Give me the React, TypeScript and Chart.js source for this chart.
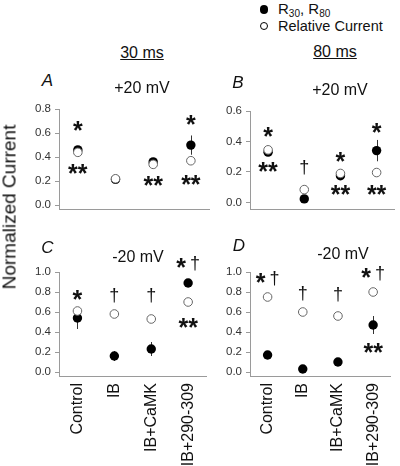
import React, { useEffect, useRef } from "react";
import { Chart, registerables } from "chart.js";
Chart.register(...registerables);

const categories = ["Control", "IB", "IB+CaMK", "IB+290-309"];

// Panel A: 30 ms, +20 mV
const aFilled = [0.46, 0.215, 0.36, 0.5];
const aFilledErr = [0.02, 0.02, 0.02, 0.08];
const aOpen = [0.44, 0.22, 0.34, 0.37];
const aTicks = [0, 0.2, 0.4, 0.6, 0.8];
const aMarks = [
  { cat: 0, y: 0.66, text: "*" },
  { cat: 0, y: 0.3, text: "**" },
  { cat: 2, y: 0.2, text: "**" },
  { cat: 3, y: 0.71, text: "*" },
  { cat: 3, y: 0.21, text: "**" },
];

// Panel B: 80 ms, +20 mV
const bFilled = [0.33, 0.023, 0.175, 0.34];
const bFilledErr = [0.02, 0.01, 0.02, 0.07];
const bOpen = [0.345, 0.084, 0.19, 0.196];
const bTicks = [0, 0.2, 0.4, 0.6];
const bMarks = [
  { cat: 0, y: 0.46, text: "*" },
  { cat: 0, y: 0.23, text: "**" },
  { cat: 1, y: 0.23, text: "†" },
  { cat: 2, y: 0.3, text: "*" },
  { cat: 2, y: 0.08, text: "**" },
  { cat: 3, y: 0.49, text: "*" },
  { cat: 3, y: 0.084, text: "**" },
];

// Panel C: 30 ms, -20 mV
const cFilled = [0.54, 0.16, 0.23, 0.89];
const cFilledErr = [0.11, 0.05, 0.07, 0.03];
const cOpen = [0.61, 0.58, 0.53, 0.7];
const cTicks = [0, 0.2, 0.4, 0.6, 0.8, 1.0];
const cMarks = [
  { cat: 0, y: 0.77, text: "*" },
  { cat: 1, y: 0.77, text: "†" },
  { cat: 2, y: 0.77, text: "†" },
  { cat: 3, y: 1.09, text: "* †" },
  { cat: 3, y: 0.49, text: "**" },
];

// Panel D: 80 ms, -20 mV
const dFilled = [0.17, 0.03, 0.1, 0.47];
const dFilledErr = [0.02, 0.01, 0.02, 0.09];
const dOpen = [0.75, 0.6, 0.56, 0.8];
const dTicks = [0, 0.2, 0.4, 0.6, 0.8, 1.0];
const dMarks = [
  { cat: 0, y: 0.94, text: "* †" },
  { cat: 1, y: 0.79, text: "†" },
  { cat: 2, y: 0.78, text: "†" },
  { cat: 3, y: 0.99, text: "* †" },
  { cat: 3, y: 0.24, text: "**" },
];

const FONT = "'Liberation Sans', Arial, sans-serif";

type Mark = { cat: number; y: number; text: string };

interface PanelCfg {
  filled: number[];
  err: number[];
  open: number[];
  ticks: number[];
  marks: Mark[];
  min: number;
  max: number;
  showLabels: boolean;
  box: { left: number; top: number; width: number; height: number };
  pad: { left: number; top: number; right: number; bottom: number };
  xHeight: number;
}

function drawMark(ctx: CanvasRenderingContext2D, cx: number, cy: number, text: string) {
  const parts = text.split("");
  const fontFor = (ch: string) => (ch === "*" ? `bold 25px ${FONT}` : `18px ${FONT}`);
  const widths = parts.map((ch) => {
    if (ch === " ") return 4;
    ctx.font = fontFor(ch);
    return ctx.measureText(ch).width;
  });
  const total = widths.reduce((a, b) => a + b, 0);
  let x = cx - total / 2;
  ctx.fillStyle = "#111";
  ctx.textAlign = "left";
  ctx.textBaseline = "alphabetic";
  parts.forEach((ch, i) => {
    if (ch !== " ") {
      ctx.font = fontFor(ch);
      const m = ctx.measureText(ch);
      const asc = m.actualBoundingBoxAscent;
      const desc = m.actualBoundingBoxDescent;
      const base = cy + (asc - desc) / 2;
      ctx.fillText(ch, x, base);
    }
    x += widths[i];
  });
}

function Panel({ cfg }: { cfg: PanelCfg }) {
  const ref = useRef<HTMLCanvasElement | null>(null);
  useEffect(() => {
    if (!ref.current) return;
    const errorBars = {
      id: "errorBars",
      beforeDatasetsDraw(chart: any) {
        const { ctx, scales } = chart;
        const xs = scales.x;
        const ys = scales.y;
        ctx.save();
        ctx.strokeStyle = "#333";
        ctx.lineWidth = 1;
        cfg.filled.forEach((v, i) => {
          const x = Math.round(xs.getPixelForValue(i)) + 0.5;
          ctx.beginPath();
          ctx.moveTo(x, ys.getPixelForValue(v + cfg.err[i]));
          ctx.lineTo(x, ys.getPixelForValue(v - cfg.err[i]));
          ctx.stroke();
        });
        ctx.restore();
      },
    };
    const marks = {
      id: "marks",
      afterDatasetsDraw(chart: any) {
        const { ctx, scales } = chart;
        ctx.save();
        cfg.marks.forEach((m) => {
          drawMark(ctx, scales.x.getPixelForValue(m.cat), scales.y.getPixelForValue(m.y), m.text);
        });
        ctx.restore();
      },
    };
    const chart = new Chart(ref.current, {
      type: "line",
      data: {
        labels: categories,
        datasets: [
          {
            label: "Relative Current",
            data: cfg.open,
            showLine: false,
            pointRadius: 4.3,
            pointBackgroundColor: "#fff",
            pointBorderColor: "#666",
            pointBorderWidth: 1,
            order: 0,
          },
          {
            label: "R30, R80",
            data: cfg.filled,
            showLine: false,
            pointRadius: 4.7,
            pointBackgroundColor: "#000",
            pointBorderColor: "#000",
            pointBorderWidth: 0,
            order: 1,
          },
        ],
      },
      options: {
        animation: false,
        responsive: false,
        maintainAspectRatio: false,
        layout: { padding: cfg.pad },
        plugins: { legend: { display: false }, tooltip: { enabled: false } },
        scales: {
          x: {
            type: "category",
            offset: true,
            grid: { display: false, drawTicks: false },
            border: { display: true, color: "#9a9a9a", width: 1 },
            ticks: {
              display: cfg.showLabels,
              maxRotation: 90,
              minRotation: 90,
              autoSkip: false,
              padding: 7,
              color: "#111",
              font: { family: FONT, size: 16 },
            },
            afterFit: (s: any) => {
              s.height = cfg.xHeight;
            },
          },
          y: {
            min: cfg.min,
            max: cfg.max,
            grid: { display: true, drawOnChartArea: false, drawTicks: true, tickLength: 4, color: "#9a9a9a" },
            border: { display: true, color: "#9a9a9a", width: 1 },
            ticks: {
              padding: 4,
              color: "#333",
              font: { family: FONT, size: 11.5 },
              callback: (v: any) => Number(v).toFixed(1),
            },
            afterBuildTicks: (s: any) => {
              s.ticks = cfg.ticks.map((v) => ({ value: v }));
            },
            afterFit: (s: any) => {
              s.width = 59;
            },
          },
        },
      } as any,
      plugins: [errorBars, marks],
    });
    return () => chart.destroy();
  }, [cfg]);
  const { left, top, width, height } = cfg.box;
  return (
    <canvas
      ref={ref}
      width={width}
      height={height}
      style={{ position: "absolute", left, top, width, height }}
    />
  );
}

const panels: PanelCfg[] = [
  {
    filled: aFilled, err: aFilledErr, open: aOpen, ticks: aTicks, marks: aMarks,
    min: -0.032, max: 0.8, showLabels: false,
    box: { left: 0, top: 95, width: 215, height: 125 },
    pad: { left: 0, top: 14, right: 5, bottom: 7 },
    xHeight: 0,
  },
  {
    filled: bFilled, err: bFilledErr, open: bOpen, ticks: bTicks, marks: bMarks,
    min: -0.044, max: 0.6, showLabels: false,
    box: { left: 191, top: 95, width: 209, height: 125 },
    pad: { left: 0, top: 16, right: 1, bottom: 7 },
    xHeight: 0,
  },
  {
    filled: cFilled, err: cFilledErr, open: cOpen, ticks: cTicks, marks: cMarks,
    min: -0.04, max: 1.0, showLabels: true,
    box: { left: 0, top: 255, width: 215, height: 211 },
    pad: { left: 0, top: 17, right: 5, bottom: 0 },
    xHeight: 90,
  },
  {
    filled: dFilled, err: dFilledErr, open: dOpen, ticks: dTicks, marks: dMarks,
    min: -0.04, max: 1.0, showLabels: true,
    box: { left: 191, top: 255, width: 209, height: 211 },
    pad: { left: 0, top: 17, right: 1, bottom: 0 },
    xHeight: 90,
  },
];

function Txt({ x, y, size, children, style }: { x: number; y: number; size: number; children: any; style?: any }) {
  return (
    <div
      style={{
        position: "absolute",
        left: x,
        top: y,
        transform: "translate(-50%, -50%)",
        fontFamily: FONT,
        fontSize: size,
        lineHeight: 1,
        whiteSpace: "nowrap",
        color: "#111",
        ...style,
      }}
    >
      {children}
    </div>
  );
}

export default function App() {
  return (
    <div
      style={{
        position: "absolute",
        left: 0,
        top: 0,
        width: 400,
        height: 466,
        overflow: "hidden",
        background: "#fff",
      }}
    >
      {panels.map((p, i) => (
        <Panel key={i} cfg={p} />
      ))}
      <Txt x={142} y={53} size={16} style={{ textDecoration: "underline" }}>30 ms</Txt>
      <Txt x={335} y={52} size={16} style={{ textDecoration: "underline" }}>80 ms</Txt>
      <Txt x={47.5} y={80} size={17} style={{ fontStyle: "italic" }}>A</Txt>
      <Txt x={142} y={88} size={16}>+20 mV</Txt>
      <Txt x={238} y={81.5} size={17} style={{ fontStyle: "italic" }}>B</Txt>
      <Txt x={340} y={90} size={16}>+20 mV</Txt>
      <Txt x={47.5} y={246.5} size={17} style={{ fontStyle: "italic" }}>C</Txt>
      <Txt x={138} y={257} size={16}>-20 mV</Txt>
      <Txt x={239} y={245} size={17} style={{ fontStyle: "italic" }}>D</Txt>
      <Txt x={343} y={253.5} size={16}>-20 mV</Txt>
      <Txt x={9} y={207} size={19} style={{ transform: "translate(-50%, -50%) rotate(-90deg)" }}>
        Normalized Current
      </Txt>
      {/* legend */}
      <div style={{ position: "absolute", left: 259.5, top: 5, width: 8.5, height: 8.5, borderRadius: "50%", background: "#000" }} />
      <div style={{ position: "absolute", left: 259.5, top: 21.5, width: 6, height: 6, borderRadius: "50%", border: "1.5px solid #000", background: "#fff" }} />
      <div style={{ position: "absolute", left: 278, top: 1, fontFamily: FONT, fontSize: 15, lineHeight: "15px", whiteSpace: "nowrap", color: "#111" }}>
        R<sub style={{ fontSize: 10, verticalAlign: "-3px" }}>30</sub>, R<sub style={{ fontSize: 10, verticalAlign: "-3px" }}>80</sub>
      </div>
      <div style={{ position: "absolute", left: 278, top: 18.5, fontFamily: FONT, fontSize: 14.5, lineHeight: "15px", whiteSpace: "nowrap", color: "#111" }}>
        Relative Current
      </div>
    </div>
  );
}
